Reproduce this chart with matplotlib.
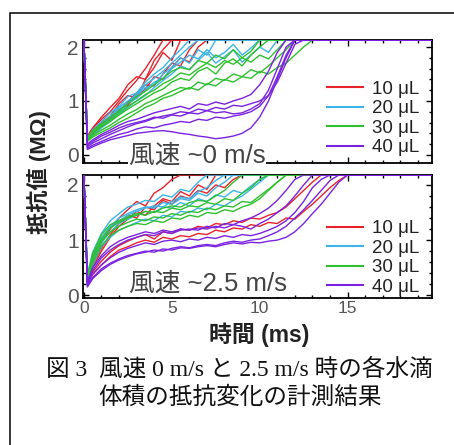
import numpy as np
import matplotlib.pyplot as plt
from matplotlib.patches import Rectangle
from matplotlib.ticker import MultipleLocator

plt.rcParams['font.family'] = ['Liberation Sans', 'Noto Sans CJK JP']

# time grid (ms): first point just after the spike, then every 0.5 ms
t = np.concatenate([[0.0, 0.2], np.arange(0.5, 20.5, 0.5)])

labels = ['10 μL', '20 μL', '30 μL', '40 μL']
colors = ['#e8222a', '#3bb4e6', '#2ec02e', '#7a22e0']

# resistance (MΩ), values from t = 0.2 ms, 0.5 ms, 1.0 ms ... until saturation
sat_0 = 2.13
wind_0 = [
    [  # 10 uL
        [0.30, 0.42, 0.60, 0.72, 0.95, 1.10, 1.05, 1.40, 1.62, 1.90, 1.75],
        [0.35, 0.50, 0.70, 0.88, 1.05, 1.30, 1.45, 1.40, 1.75, 1.95],
        [0.28, 0.40, 0.52, 0.70, 0.82, 0.98, 1.15, 1.30, 1.28, 1.50, 1.70, 1.65, 1.95],
        [0.32, 0.48, 0.66, 0.80, 1.00, 1.20, 1.38, 1.60, 1.85],
        [0.30, 0.38, 0.55, 0.66, 0.85, 0.92, 1.10, 1.22, 1.45, 1.40, 1.62, 1.80, 1.72, 2.00],
    ],
    [  # 20 uL
        [0.30, 0.45, 0.58, 0.72, 0.88, 1.00, 1.12, 1.30, 1.42, 1.55, 1.70, 1.85, 2.00],
        [0.25, 0.40, 0.55, 0.66, 0.80, 0.95, 1.05, 1.20, 1.35, 1.42, 1.60, 1.72, 1.85,
         1.78, 1.95, 1.80, 1.90, 2.05, 1.85, 1.98],
        [0.32, 0.46, 0.62, 0.78, 0.90, 1.08, 1.15, 1.35, 1.50, 1.62, 1.80, 1.95],
        [0.28, 0.36, 0.50, 0.62, 0.75, 0.88, 1.00, 1.10, 1.25, 1.38, 1.50, 1.65, 1.58,
         1.75, 1.90, 1.70, 1.82, 1.95, 1.72, 1.85, 2.00, 1.90],
        [0.30, 0.42, 0.56, 0.70, 0.85, 0.96, 1.10, 1.25, 1.30, 1.50, 1.62, 1.80, 1.70,
         1.95, 1.85],
    ],
    [  # 30 uL
        [0.30, 0.40, 0.52, 0.62, 0.74, 0.85, 0.95, 1.05, 1.15, 1.22, 1.35, 1.42, 1.38,
         1.55, 1.62, 1.50, 1.70, 1.78, 1.65, 1.85, 2.00],
        [0.28, 0.36, 0.46, 0.55, 0.66, 0.76, 0.84, 0.95, 1.02, 1.10, 1.18, 1.25, 1.22,
         1.35, 1.30, 1.42, 1.38, 1.50, 1.45, 1.58, 1.52, 1.65, 1.80, 1.95],
        [0.32, 0.45, 0.58, 0.70, 0.82, 0.95, 1.08, 1.18, 1.30, 1.42, 1.55, 1.62, 1.58,
         1.75, 1.70, 1.85, 1.78, 1.95, 1.80, 1.92],
        [0.25, 0.33, 0.42, 0.50, 0.60, 0.68, 0.78, 0.88, 0.95, 1.05, 1.10, 1.18, 1.25,
         1.20, 1.32, 1.28, 1.40, 1.35, 1.45, 1.42, 1.55, 1.50, 1.62, 1.70, 1.85, 2.00],
        [0.30, 0.42, 0.55, 0.65, 0.78, 0.90, 1.00, 1.12, 1.20, 1.32, 1.40, 1.52, 1.48,
         1.60, 1.70, 1.62, 1.75, 1.68, 1.80, 1.72, 1.85, 1.78, 1.95],
    ],
    [  # 40 uL
        [0.15, 0.22, 0.30, 0.38, 0.45, 0.52, 0.58, 0.62, 0.68, 0.72, 0.75, 0.80, 0.78,
         0.85, 0.82, 0.88, 0.85, 0.92, 0.90, 0.95, 1.00, 1.10, 1.35, 1.70, 2.05],
        [0.20, 0.28, 0.38, 0.46, 0.55, 0.62, 0.66, 0.72, 0.78, 0.82, 0.86, 0.90, 0.85,
         0.95, 0.92, 0.98, 0.94, 1.00, 1.05, 1.12, 1.30, 1.55, 1.90],
        [0.12, 0.18, 0.25, 0.32, 0.38, 0.42, 0.48, 0.52, 0.50, 0.55, 0.58, 0.62, 0.60,
         0.66, 0.64, 0.70, 0.68, 0.72, 0.75, 0.80, 0.90, 1.10, 1.45, 1.85],
        [0.10, 0.15, 0.22, 0.28, 0.32, 0.36, 0.40, 0.42, 0.44, 0.45, 0.43, 0.40, 0.38,
         0.35, 0.33, 0.30, 0.32, 0.35, 0.40, 0.50, 0.70, 1.00, 1.40, 1.80],
        [0.18, 0.25, 0.35, 0.42, 0.50, 0.56, 0.60, 0.64, 0.70, 0.68, 0.74, 0.72, 0.78,
         0.76, 0.82, 0.78, 0.80, 0.76, 0.78, 0.85, 0.95, 1.20, 1.60, 2.00],
    ],
]

sat_25 = 2.18
wind_25 = [
    [  # 10 uL
        [0.30, 0.60, 0.95, 1.20, 1.40, 1.55, 1.70, 1.62, 1.85, 1.95, 2.10],
        [0.28, 0.50, 0.80, 1.05, 1.25, 1.38, 1.52, 1.45, 1.62, 1.75, 1.70, 1.88, 1.80,
         2.00, 1.92],
        [0.25, 0.42, 0.62, 0.78, 0.90, 0.98, 1.05, 1.10, 1.02, 1.15, 1.12, 1.20, 1.18,
         1.25, 1.22, 1.30, 1.28, 1.35, 1.32, 1.40, 1.38, 1.45, 1.50, 1.60, 1.75, 1.90,
         2.05],
        [0.22, 0.38, 0.55, 0.70, 0.82, 0.88, 0.95, 1.00, 0.96, 1.05, 1.02, 1.08, 1.06,
         1.12, 1.10, 1.18, 1.15, 1.22, 1.20, 1.28, 1.25, 1.32, 1.30, 1.40, 1.38, 1.52,
         1.65, 1.80, 1.95, 2.08],
        [0.32, 0.55, 0.85, 1.10, 1.30, 1.45, 1.40, 1.60, 1.55, 1.72, 1.65, 1.80, 1.75,
         1.90, 1.85, 2.00, 1.95, 2.10],
    ],
    [  # 20 uL
        [0.35, 0.70, 1.05, 1.25, 1.40, 1.48, 1.55, 1.60, 1.58, 1.68, 1.65, 1.75, 1.72,
         1.85, 1.80, 1.95, 2.05],
        [0.30, 0.62, 0.95, 1.15, 1.30, 1.38, 1.45, 1.52, 1.50, 1.60, 1.58, 1.68, 1.62,
         1.75, 1.70, 1.82, 1.78, 1.90, 1.85, 1.98, 2.10],
        [0.38, 0.78, 1.12, 1.35, 1.48, 1.60, 1.65, 1.72, 1.70, 1.82, 1.78, 1.92, 1.88,
         2.05],
        [0.28, 0.55, 0.88, 1.05, 1.18, 1.25, 1.32, 1.38, 1.35, 1.45, 1.42, 1.52, 1.50,
         1.58, 1.55, 1.65, 1.62, 1.72, 1.80, 1.92, 2.05],
        [0.33, 0.68, 1.00, 1.22, 1.35, 1.45, 1.52, 1.58, 1.62, 1.60, 1.70, 1.78, 1.75,
         1.88, 1.95, 2.08],
    ],
    [  # 30 uL
        [0.35, 0.75, 1.10, 1.28, 1.35, 1.42, 1.48, 1.45, 1.52, 1.50, 1.58, 1.55, 1.62,
         1.60, 1.68, 1.65, 1.75, 1.72, 1.85, 1.95, 2.10],
        [0.30, 0.65, 0.98, 1.15, 1.25, 1.32, 1.38, 1.35, 1.42, 1.40, 1.48, 1.45, 1.52,
         1.50, 1.58, 1.55, 1.62, 1.60, 1.70, 1.68, 1.80, 1.92, 2.05],
        [0.32, 0.70, 1.02, 1.22, 1.32, 1.40, 1.45, 1.52, 1.50, 1.58, 1.62, 1.60, 1.68,
         1.72, 1.70, 1.80, 1.90, 2.05],
        [0.28, 0.58, 0.90, 1.08, 1.18, 1.25, 1.30, 1.28, 1.35, 1.32, 1.40, 1.38, 1.45,
         1.42, 1.50, 1.48, 1.55, 1.52, 1.60, 1.65, 1.75, 1.90, 2.05],
    ],
    [  # 40 uL
        [0.20, 0.38, 0.55, 0.68, 0.78, 0.85, 0.90, 0.95, 0.92, 0.98, 1.00, 0.97, 1.02,
         1.00, 1.05, 1.03, 1.08, 1.05, 1.10, 1.08, 1.12, 1.18, 1.25, 1.35, 1.50, 1.70,
         1.95, 2.10],
        [0.18, 0.32, 0.48, 0.58, 0.66, 0.72, 0.76, 0.80, 0.78, 0.84, 0.82, 0.86, 0.85,
         0.88, 0.90, 0.88, 0.92, 0.95, 0.93, 0.96, 0.95, 0.98, 1.00, 1.05, 1.15, 1.30,
         1.48, 1.65, 1.85, 2.05],
        [0.22, 0.45, 0.68, 0.82, 0.92, 1.00, 1.05, 1.10, 1.08, 1.15, 1.12, 1.18, 1.20,
         1.18, 1.25, 1.22, 1.30, 1.28, 1.35, 1.40, 1.48, 1.58, 1.72, 1.90, 2.10],
        [0.25, 0.50, 0.72, 0.88, 0.98, 1.05, 1.10, 1.15, 1.12, 1.18, 1.15, 1.20, 1.18,
         1.22, 1.20, 1.25, 1.22, 1.28, 1.25, 1.20, 1.30, 1.38, 1.50, 1.62, 1.80, 2.00],
        [0.15, 0.30, 0.45, 0.56, 0.64, 0.70, 0.75, 0.78, 0.82, 0.80, 0.85, 0.88, 0.86,
         0.90, 0.92, 0.90, 0.95, 0.98, 0.96, 1.00, 1.02, 1.08, 1.15, 1.25, 1.40, 1.55,
         1.72, 1.90, 2.08],
    ],
]

W, H = 454, 445
fig = plt.figure(figsize=(W / 100, H / 100), dpi=100)

# outer frame (clipped at right and bottom like the scan)
fig.patches.append(Rectangle((10 / W, -0.1), 1.2, 1 - 13 / H + 0.1,
                             transform=fig.transFigure, fill=False,
                             edgecolor='black', lw=1.1))

ax1 = fig.add_axes([83 / W, 1 - 163 / H, 349 / W, 123 / H])
ax2 = fig.add_axes([83 / W, 1 - 298 / H, 349 / W, 123 / H])


def draw(ax, data, sat, ylim, note, note_xy, leg_top):
    n = len(t)
    for group, col, lab in zip(data, colors, labels):
        for k, vals in enumerate(group):
            full = [sat] + vals + [sat] * (n - 1 - len(vals))
            ax.plot(t, full, color=col, lw=1.0, zorder=3,
                    label=lab if k == 0 else None)
    ax.set_xlim(-0.05, 19.8)
    ax.set_ylim(*ylim)
    ax.set_yticks([0, 1, 2])
    ax.xaxis.set_major_locator(MultipleLocator(5))
    ax.xaxis.set_minor_locator(MultipleLocator(1))
    ax.yaxis.set_minor_locator(MultipleLocator(0.2))
    ax.tick_params(which='both', direction='in', top=True, right=True, width=1.0)
    ax.tick_params(which='major', length=4)
    ax.tick_params(which='minor', length=2.5)
    ax.tick_params(axis='y', labelsize=15, labelcolor='#555555', pad=3)
    ax.tick_params(axis='x', labelsize=12.5, labelcolor='#555555', pad=2)
    for sp in ax.spines.values():
        sp.set_linewidth(1.3)
        sp.set_zorder(2)
    ax.text(note_xy[0], note_xy[1], note, fontsize=18.5, color='#444444',
            va='center', ha='left', zorder=4,
            bbox=dict(facecolor='white', edgecolor='none', pad=0.5))
    leg = ax.legend(loc='upper left', bbox_to_anchor=(0.699, leg_top), fontsize=13.5,
                    handlelength=1.9, handletextpad=0.5, labelspacing=0.12,
                    borderpad=0, borderaxespad=0, frameon=False)
    for txt in leg.get_texts():
        txt.set_color('#222222')
    for h in leg.get_lines():
        h.set_linewidth(1.5)


draw(ax1, wind_0, sat_0, (-0.15, sat_0), '風速 ~0 m/s', (2.55, -0.02), 0.668)
draw(ax2, wind_25, sat_25, (-0.05, sat_25), '風速 ~2.5 m/s', (2.55, 0.20), 0.632)
ax1.tick_params(axis='x', labelbottom=False)

fig.text(39 / W, 1 - 172 / H, '抵抗値 (MΩ)', rotation=90, ha='center', va='center',
         fontsize=16, fontweight='bold', color='#222222')
fig.text(259 / W, 1 - 335 / H, '時間 (ms)', ha='center', va='center',
         fontsize=16.5, fontweight='bold', color='#222222')

cap_font = ['Liberation Serif', 'Noto Sans CJK JP']
fig.text(239 / W, 1 - 369 / H, '図 3  風速 0 m/s と 2.5 m/s 時の各水滴',
         ha='center', va='center', fontsize=17, family=cap_font, color='#111111')
fig.text(240 / W, 1 - 398 / H, '体積の抵抗変化の計測結果',
         ha='center', va='center', fontsize=17, family=cap_font, color='#111111')

fig.savefig('out.png', dpi=100)
